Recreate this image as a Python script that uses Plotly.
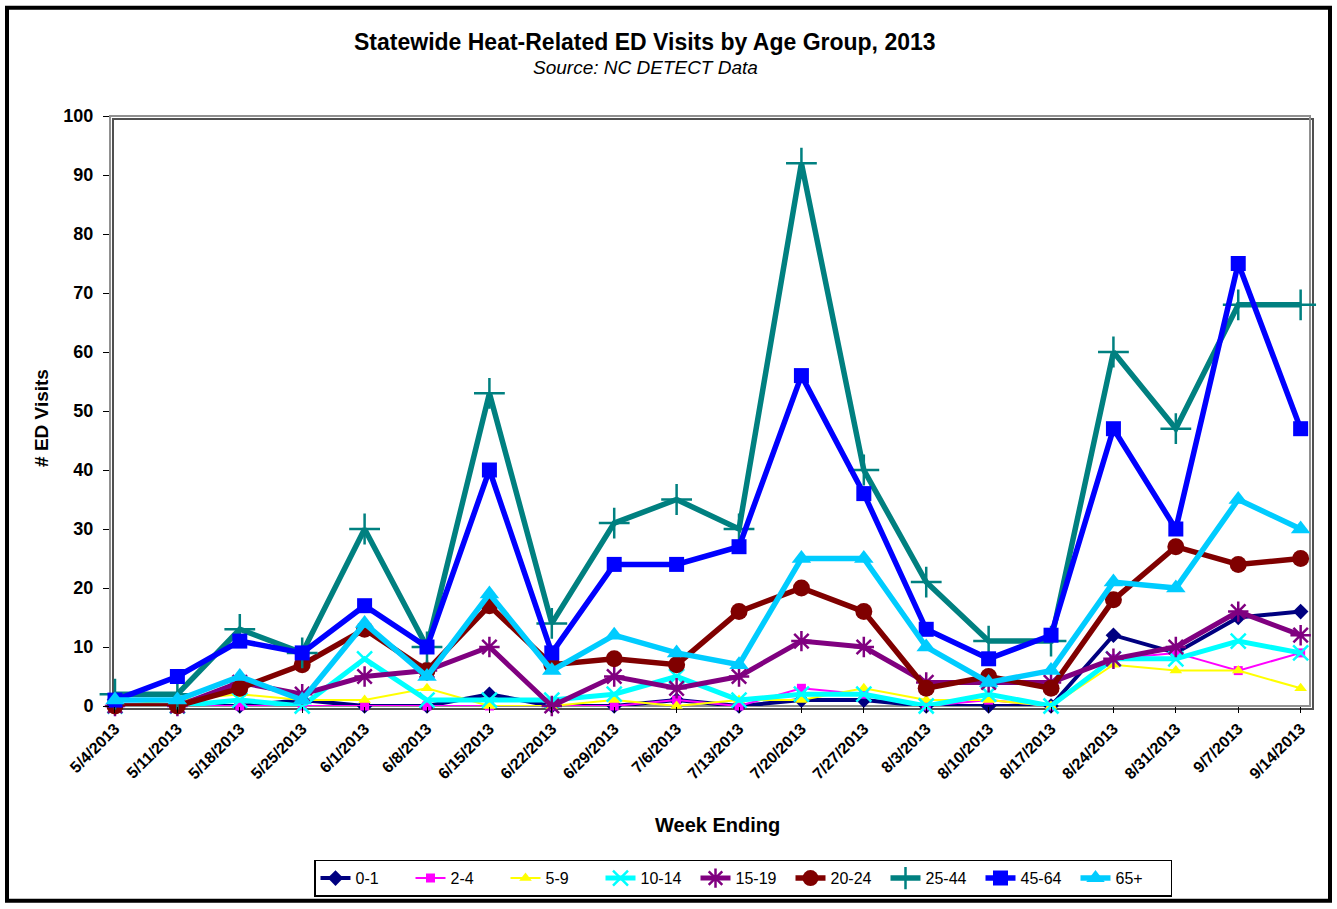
import plotly.graph_objects as go

weeks = ["5/4/2013", "5/11/2013", "5/18/2013", "5/25/2013", "6/1/2013", "6/8/2013",
         "6/15/2013", "6/22/2013", "6/29/2013", "7/6/2013", "7/13/2013", "7/20/2013",
         "7/27/2013", "8/3/2013", "8/10/2013", "8/17/2013", "8/24/2013", "8/31/2013",
         "9/7/2013", "9/14/2013"]

age_0_1 = [0, 0, 0, 1, 0, 0, 2, 0, 0, 1, 0, 1, 1, 0, 0, 0, 12, 9, 15, 16]
age_2_4 = [0, 0, 0, 0, 0, 0, 0, 0, 0, 1, 0, 3, 2, 0, 1, 0, 8, 9, 6, 9]
age_5_9 = [0, 1, 2, 1, 1, 3, 0, 0, 1, 0, 1, 1, 3, 1, 1, 0, 7, 6, 6, 3]
age_10_14 = [0, 0, 1, 0, 8, 1, 1, 1, 2, 5, 1, 2, 2, 0, 2, 0, 8, 8, 11, 9]
age_15_19 = [0, 0, 4, 2, 5, 6, 10, 0, 5, 3, 5, 11, 10, 4, 4, 4, 8, 10, 16, 12]
age_20_24 = [0, 0, 3, 7, 13, 6, 17, 7, 8, 7, 16, 20, 16, 3, 5, 3, 18, 27, 24, 25]
age_25_44 = [2, 2, 13, 9, 30, 10, 53, 14, 31, 35, 30, 92, 40, 21, 11, 11, 60, 47, 68, 68]
age_45_64 = [1, 5, 11, 9, 17, 10, 40, 9, 24, 24, 27, 56, 36, 13, 8, 12, 47, 30, 75, 47]
age_65_plus = [1, 1, 5, 1, 14, 5, 19, 6, 12, 9, 7, 25, 25, 10, 4, 6, 21, 20, 35, 30]

series = [
    ("0-1", age_0_1, "#000080", "diamond", 12, 4),
    ("2-4", age_2_4, "#FF00FF", "square", 9, 2),
    ("5-9", age_5_9, "#FFFF00", "triangle-up", 11, 2),
    ("10-14", age_10_14, "#00FFFF", "x-thin", 15, 5),
    ("15-19", age_15_19, "#800080", "asterisk", 17, 5),
    ("20-24", age_20_24, "#800000", "circle", 17, 5.5),
    ("25-44", age_25_44, "#008080", "cross-thin", 22, 5.5),
    ("45-64", age_45_64, "#0000FF", "square", 15, 5.5),
    ("65+", age_65_plus, "#00CCFF", "triangle-up", 17, 5.5),
]

fig = go.Figure()
for name, vals, color, sym, size, lw in series:
    thin = sym in ("x-thin", "asterisk", "cross-thin")
    fig.add_trace(go.Scatter(
        x=weeks, y=vals, name=name, mode="lines+markers",
        line=dict(color=color, width=lw),
        marker=dict(symbol=sym, size=size, color=color,
                    line=dict(color=color, width=2.5 if thin else 0)),
        cliponaxis=False,
    ))

fnt = "Liberation Sans, Arial, sans-serif"
W, H = 1337, 909
L, R, T, B = 110, 1310, 116, 710
PW, PH = R - L, B - T


def px(x):
    return (x - L) / PW


def py(y):
    return (B - y) / PH


fig.update_layout(
    width=W, height=H,
    margin=dict(l=L, r=W - R, t=T, b=H - B, pad=0),
    paper_bgcolor="white", plot_bgcolor="white",
    font=dict(family=fnt, color="black"),
    showlegend=True,
    legend=dict(orientation="h", x=px(743), xanchor="center", y=py(902), yanchor="bottom",
                bordercolor="black", borderwidth=1.5, bgcolor="white",
                font=dict(size=16, family=fnt), entrywidth=50, entrywidthmode="pixels",
                tracegroupgap=0),
    xaxis=dict(type="category", range=[-0.08, 19.15], showgrid=False, zeroline=False,
               showline=False, ticks="outside", ticklen=6, tickcolor="black",
               tickangle=-45, tickfont=dict(size=16, family=fnt, weight="bold")),
    yaxis=dict(range=[0, 100], dtick=10, showgrid=False, zeroline=False,
               showline=False, ticks="outside", ticklen=6, tickcolor="black",
               ticklabelstandoff=6,
               tickfont=dict(size=18, family=fnt, weight="bold")),
    annotations=[
        dict(text="<b>Statewide Heat-Related ED Visits by Age Group, 2013</b>",
             xref="paper", yref="paper", x=px(645), y=py(42),
             xanchor="center", yanchor="middle", showarrow=False,
             font=dict(size=23, family=fnt)),
        dict(text="<i>Source: NC DETECT Data</i>",
             xref="paper", yref="paper", x=px(645), y=py(67),
             xanchor="center", yanchor="middle", showarrow=False,
             font=dict(size=19, family=fnt)),
        dict(text="<b># ED Visits</b>", textangle=-90,
             xref="paper", yref="paper", x=px(42), y=py(420),
             xanchor="center", yanchor="middle", showarrow=False,
             font=dict(size=19, family=fnt)),
        dict(text="<b>Week Ending</b>",
             xref="paper", yref="paper", x=px(717), y=py(830),
             xanchor="center", yanchor="middle", showarrow=False,
             font=dict(size=20, family=fnt)),
    ],
    shapes=[
        # plot area shadow
        dict(type="rect", xref="paper", yref="paper", x0=px(L + 3), x1=px(R + 3),
             y0=py(B + 3), y1=py(T + 3),
             line=dict(color="#505050", width=2), layer="below"),
        # plot area border
        dict(type="rect", xref="paper", yref="paper", x0=0, x1=1, y0=0, y1=1,
             line=dict(color="#909090", width=2), layer="below"),
        # outer frame
        dict(type="rect", xref="paper", yref="paper",
             x0=px(7), x1=px(1330), y0=py(906), y1=py(7),
             line=dict(color="black", width=4)),
    ],
)

fig.write_html("out.html", config={"displayModeBar": False},
               post_script="document.body.style.margin='0px';document.body.style.overflow='hidden';")
